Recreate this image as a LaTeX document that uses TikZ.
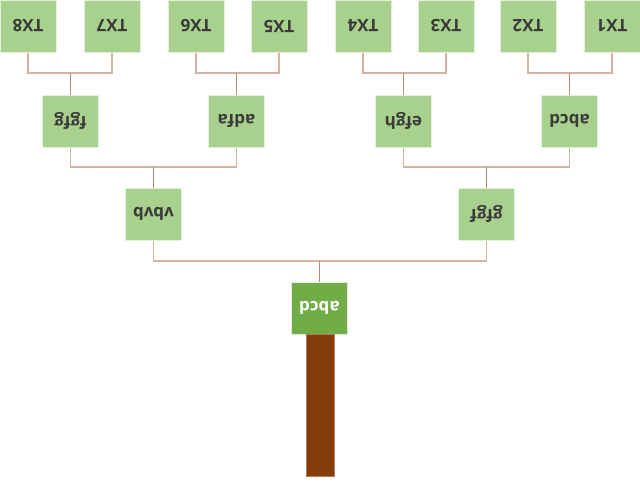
\documentclass[tikz,border=0pt]{standalone}
\usepackage{fontspec}
\setmainfont{Open Sans}
\definecolor{leaf}{HTML}{A9D18E}
\definecolor{leafedge}{HTML}{E4F0DC}
\definecolor{rootg}{HTML}{70AD47}
\definecolor{trunk}{HTML}{843C0C}
\definecolor{trunkedge}{HTML}{B7795A}
\definecolor{branch}{HTML}{D3B4A1}
\definecolor{drop}{HTML}{BC8A6C}
\definecolor{txt}{HTML}{3A3A3A}
\newcommand{\upside}[1]{\rotatebox[origin=c]{180}{#1}}
\tikzset{
  leafbox/.style={draw=leafedge, line width=1pt, fill=leaf, minimum width=56pt, minimum height=52pt, inner sep=0pt, text=txt, font=\fontsize{17}{19}\selectfont\bfseries},
  rootbox/.style={leafbox, fill=rootg, text=white},
  br/.style={draw=branch, line width=1.2pt},
  dr/.style={draw=drop, line width=1.2pt}
}
\begin{document}
\begin{tikzpicture}[x=1pt,y=-1pt]
\useasboundingbox (0,0) rectangle (640,491);
% top row
\node[leafbox] (t8) at (28,26) {\upside{TX8}};
\node[leafbox] (t7) at (112,26) {\upside{TX7}};
\node[leafbox] (t6) at (196,26) {\upside{TX6}};
\node[leafbox] (t5) at (279,26) {\upside{TX5}};
\node[leafbox] (t4) at (363,26) {\upside{TX4}};
\node[leafbox] (t3) at (446,26) {\upside{TX3}};
\node[leafbox] (t2) at (528,26) {\upside{TX2}};
\node[leafbox] (t1) at (612,26) {\upside{TX1}};
% second row
\node[leafbox] (m4) at (70.5,121) {\upside{fgfg}};
\node[leafbox] (m3) at (236.5,121) {\upside{adfa}};
\node[leafbox] (m2) at (403.5,121) {\upside{efgh}};
\node[leafbox] (m1) at (569.5,121) {\upside{abcd}};
% third row
\node[leafbox] (b2) at (153.5,214) {\upside{vbvb}};
\node[leafbox] (b1) at (486.5,214) {\upside{gfgf}};
% root
\node[rootbox] (r) at (319.5,308) {\upside{abcd}};
\node[draw=trunkedge, line width=0.6pt, fill=trunk, minimum width=28pt, minimum height=142pt, inner sep=0pt, anchor=north] (tr) at (320,334) {};
% junctions
\coordinate (j4) at (70.5,73);
\coordinate (j3) at (236.5,73);
\coordinate (j2) at (403.5,73);
\coordinate (j1) at (569.5,73);
\coordinate (k2) at (153.5,167);
\coordinate (k1) at (486.5,167);
\coordinate (q) at (319.5,261);
% connectors
\draw[br] (t8.south) |- (j4) -| (t7.south);
\draw[br] (t6.south) |- (j3) -| (t5.south);
\draw[br] (t4.south) |- (j2) -| (t3.south);
\draw[br] (t2.south) |- (j1) -| (t1.south);
\draw[dr] (j4) -- (m4.north);
\draw[dr] (j3) -- (m3.north);
\draw[dr] (j2) -- (m2.north);
\draw[dr] (j1) -- (m1.north);
\draw[br] (m4.south) |- (k2) -| (m3.south);
\draw[br] (m2.south) |- (k1) -| (m1.south);
\draw[dr] (k2) -- (b2.north);
\draw[dr] (k1) -- (b1.north);
\draw[br] (b2.south) |- (q) -| (b1.south);
\draw[dr] (q) -- (r.north);
\end{tikzpicture}
\end{document}
